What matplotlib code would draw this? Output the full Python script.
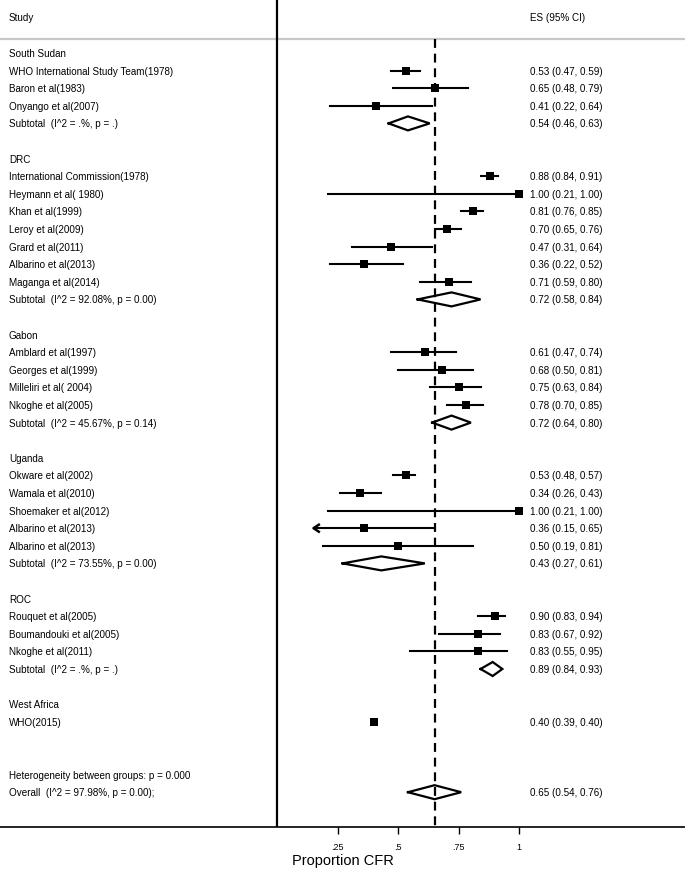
import matplotlib
matplotlib.use("Agg")
import matplotlib.pyplot as plt

plt.rcParams['font.family'] = ['Liberation Sans', 'DejaVu Sans']

groups = ["South Sudan", "DRC", "Gabon", "Uganda", "ROC", "West Africa"]

studies = [
    ["WHO International Study Team(1978)", "Baron et al(1983)", "Onyango et al(2007)"],
    ["International Commission(1978)", "Heymann et al( 1980)", "Khan et al(1999)",
     "Leroy et al(2009)", "Grard et al(2011)", "Albarino et al(2013)", "Maganga et al(2014)"],
    ["Amblard et al(1997)", "Georges et al(1999)", "Milleliri et al( 2004)", "Nkoghe et al(2005)"],
    ["Okware et al(2002)", "Wamala et al(2010)", "Shoemaker et al(2012)",
     "Albarino et al(2013)", "Albarino et al(2013)"],
    ["Rouquet et al(2005)", "Boumandouki et al(2005)", "Nkoghe et al(2011)"],
    ["WHO(2015)"],
]
es = [[0.53, 0.65, 0.41],
      [0.88, 1.00, 0.81, 0.70, 0.47, 0.36, 0.71],
      [0.61, 0.68, 0.75, 0.78],
      [0.53, 0.34, 1.00, 0.36, 0.50],
      [0.90, 0.83, 0.83],
      [0.40]]
lo = [[0.47, 0.48, 0.22],
      [0.84, 0.21, 0.76, 0.65, 0.31, 0.22, 0.59],
      [0.47, 0.50, 0.63, 0.70],
      [0.48, 0.26, 0.21, 0.15, 0.19],
      [0.83, 0.67, 0.55],
      [0.39]]
hi = [[0.59, 0.79, 0.64],
      [0.91, 1.00, 0.85, 0.76, 0.64, 0.52, 0.80],
      [0.74, 0.81, 0.84, 0.85],
      [0.57, 0.43, 1.00, 0.65, 0.81],
      [0.94, 0.92, 0.95],
      [0.40]]

sub_label = ["Subtotal  (I^2 = .%, p = .)", "Subtotal  (I^2 = 92.08%, p = 0.00)",
             "Subtotal  (I^2 = 45.67%, p = 0.14)", "Subtotal  (I^2 = 73.55%, p = 0.00)",
             "Subtotal  (I^2 = .%, p = .)", None]
sub_es = [0.54, 0.72, 0.72, 0.43, 0.89, None]
sub_lo = [0.46, 0.58, 0.64, 0.27, 0.84, None]
sub_hi = [0.63, 0.84, 0.80, 0.61, 0.93, None]

overall = (0.65, 0.54, 0.76)
overall_label = "Overall  (I^2 = 97.98%, p = 0.00);"
het_label = "Heterogeneity between groups: p = 0.000"

fig = plt.figure(figsize=(6.85, 8.7), dpi=100)
ax = fig.add_axes([0, 42 / 870, 1, 828 / 870])
x0, scale = 277.2, 242.1
ax.set_xlim(-x0 / scale, (685 - x0) / scale)
ax.set_ylim(828, 0)

fs = 7.1
xlab = -x0 / scale + 9 / scale
xes = (530 - x0) / scale


def ypos(r):
    return 54 + 17.6 * r


def diamond(y, e, l, h):
    ax.plot([l, e, h, e, l], [y, y - 7, y, y + 7, y], color='black', lw=1.6,
            solid_joinstyle='miter', zorder=4)


def ci_text(e, l, h):
    return f"{e:.2f} ({l:.2f}, {h:.2f})"


r = 0
for g in range(len(groups)):
    ax.text(xlab, ypos(r), groups[g], fontsize=fs, va='center')
    r += 1
    for name, e, l, h in zip(studies[g], es[g], lo[g], hi[g]):
        y = ypos(r)
        ax.text(xlab, y, name, fontsize=fs, va='center')
        ax.text(xes, y, ci_text(e, l, h), fontsize=fs, va='center')
        if l <= 0.15:
            ax.plot([l, h], [y, y], color='black', lw=1.5, zorder=3)
            ax.plot([l + 0.022, l, l + 0.022], [y - 3.5, y, y + 3.5], color='black',
                    lw=1.8, zorder=3)
        elif h > l:
            ax.plot([l, h], [y, y], color='black', lw=1.5, zorder=3)
        ax.plot(e, y, marker='s', color='black', markersize=5.4, markeredgewidth=0,
                zorder=5)
        r += 1
    if sub_label[g] is not None:
        y = ypos(r)
        ax.text(xlab, y, sub_label[g], fontsize=fs, va='center')
        ax.text(xes, y, ci_text(sub_es[g], sub_lo[g], sub_hi[g]), fontsize=fs, va='center')
        diamond(y, sub_es[g], sub_lo[g], sub_hi[g])
        r += 1
    r += 1

r += 1
ax.text(xlab, ypos(r), het_label, fontsize=fs, va='center')
r += 1
y = ypos(r)
ax.text(xlab, y, overall_label, fontsize=fs, va='center')
ax.text(xes, y, ci_text(*overall), fontsize=fs, va='center')
diamond(y, *overall)

# header
ax.text(xlab, 18, "Study", fontsize=fs, va='center')
ax.text(xes, 18, "ES (95% CI)", fontsize=fs, va='center')
ax.axhline(40, color='#c8c8c8', lw=1.6, zorder=1)

# reference lines
ax.plot([0, 0], [0, 828], color='black', lw=1.6, zorder=2)
ax.plot([overall[0], overall[0]], [40, 828], color='black', lw=1.6,
        dashes=(4, 2.6), zorder=2)

for s in ['top', 'left', 'right']:
    ax.spines[s].set_visible(False)
ax.spines['bottom'].set_linewidth(1.2)
ax.set_yticks([])
ax.set_xticks([0.25, 0.5, 0.75, 1])
ax.set_xticklabels([".25", ".5", ".75", "1"], fontsize=6.5)
ax.tick_params(axis='x', length=5, width=1, pad=6)
ax.text(0.27, 861, "Proportion CFR", fontsize=10.5, ha='center', va='center',
        clip_on=False)

fig.savefig("out.png", dpi=100)
